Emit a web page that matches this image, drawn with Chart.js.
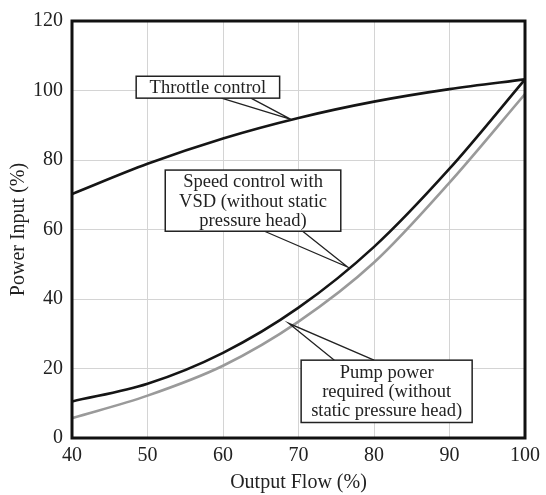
<!DOCTYPE html>
<html>
<head>
<meta charset="utf-8">
<script src="https://cdn.jsdelivr.net/npm/chart.js@4"></script>
<style>
  html, body { margin: 0; padding: 0; background: #fff; }
  #wrap { width: 546px; height: 495px; }
</style>
</head>
<body>
<div id="wrap"><canvas id="pumpChart"></canvas></div>
<script>
// output flow (%) and power input (%)
const flow = [40, 50, 60, 70, 80, 90, 100];
const throttle = [70.2, 78.9, 86.2, 92.1, 96.8, 100.4, 103.2];
const vsd = [10.5, 15.6, 24.5, 37.5, 55, 77.5, 103.2];
const pump = [5.7, 12.2, 20.8, 33.5, 50.5, 73.5, 99];

const serif = "'Liberation Serif', 'Times New Roman', serif";
const ink = "#222";

// callout boxes, in data units
const callouts = [
  { lines: ["Throttle control"], x1: 48.5, x2: 67.5, y1: 104.1, y2: 97.8,
    base: [59.8, 63.7], edge: "bottom", tip: [69.0, 91.7] },
  { lines: ["Speed control with", "VSD (without static", "pressure head)"],
    x1: 52.35, x2: 75.6, y1: 77.1, y2: 59.5,
    base: [65.5, 70.55], edge: "bottom", tip: [76.5, 49.2] },
  { lines: ["Pump power", "required (without", "static pressure head)"],
    x1: 70.35, x2: 93.0, y1: 22.4, y2: 4.46,
    base: [74.75, 80.0], edge: "top", tip: [68.7, 33.0] },
];

const toPts = (ys) => flow.map((x, i) => ({ x: x, y: ys[i] }));

const calloutPlugin = {
  id: "callouts",
  afterDatasetsDraw(chart) {
    const { ctx, scales } = chart;
    const X = (v) => scales.x.getPixelForValue(v);
    const Y = (v) => scales.y.getPixelForValue(v);
    ctx.save();
    callouts.forEach((c) => {
      const left = X(c.x1), right = X(c.x2), top = Y(c.y1), bottom = Y(c.y2);
      const ey = c.edge === "bottom" ? bottom : top;
      // pointer
      ctx.strokeStyle = ink;
      ctx.lineWidth = 1.3;
      ctx.beginPath();
      ctx.moveTo(X(c.base[0]), ey);
      ctx.lineTo(X(c.tip[0]), Y(c.tip[1]));
      ctx.lineTo(X(c.base[1]), ey);
      ctx.stroke();
      // box
      ctx.fillStyle = "#fff";
      ctx.fillRect(left, top, right - left, bottom - top);
      ctx.lineWidth = 1.5;
      ctx.strokeRect(left, top, right - left, bottom - top);
      // text
      ctx.fillStyle = ink;
      ctx.font = "18.5px " + serif;
      ctx.textAlign = "center";
      ctx.textBaseline = "middle";
      const lh = 19.2;
      const cy = (top + bottom) / 2 - ((c.lines.length - 1) * lh) / 2;
      c.lines.forEach((t, i) => ctx.fillText(t, (left + right) / 2, cy + i * lh + 1));
    });
    ctx.restore();
  },
  afterDraw(chart) {
    const a = chart.chartArea;
    const ctx = chart.ctx;
    ctx.save();
    ctx.strokeStyle = "#111";
    ctx.lineWidth = 3;
    ctx.strokeRect(a.left, a.top, a.right - a.left, a.bottom - a.top);
    ctx.restore();
  },
};

new Chart(document.getElementById("pumpChart"), {
  type: "line",
  data: {
    datasets: [
      { label: "Throttle control", data: toPts(throttle), borderColor: "#151515" },
      { label: "Speed control with VSD", data: toPts(vsd), borderColor: "#151515" },
      { label: "Pump power required", data: toPts(pump), borderColor: "#9a9a9a" },
    ],
  },
  options: {
    responsive: true,
    maintainAspectRatio: false,
    animation: false,
    layout: { padding: { top: 18, right: 20, left: 0, bottom: 0 } },
    elements: {
      line: { borderWidth: 2.6, cubicInterpolationMode: "monotone", fill: false },
      point: { radius: 0, hoverRadius: 0 },
    },
    plugins: {
      legend: { display: false },
      tooltip: { enabled: false },
    },
    scales: {
      x: {
        type: "linear",
        min: 40,
        max: 100,
        afterFit: (s) => { s.height = 57; },
        ticks: { stepSize: 10, color: ink, padding: 6, font: { family: serif, size: 20 } },
        grid: { color: "#d4d4d4", lineWidth: 1, drawTicks: false },
        border: { display: false },
        title: {
          display: true,
          text: "Output Flow (%)",
          color: ink,
          padding: { top: 0, bottom: 0 },
          font: { family: serif, size: 20 },
        },
      },
      y: {
        min: 0,
        max: 120,
        afterFit: (s) => { s.width = 72; },
        ticks: { stepSize: 20, color: ink, padding: 9, font: { family: serif, size: 20 } },
        grid: { color: "#d4d4d4", lineWidth: 1, drawTicks: false },
        border: { display: false },
        title: {
          display: true,
          text: "Power Input (%)",
          color: ink,
          padding: { top: 7, bottom: 0 },
          font: { family: serif, size: 20 },
        },
      },
    },
  },
  plugins: [calloutPlugin],
});
</script>
</body>
</html>
